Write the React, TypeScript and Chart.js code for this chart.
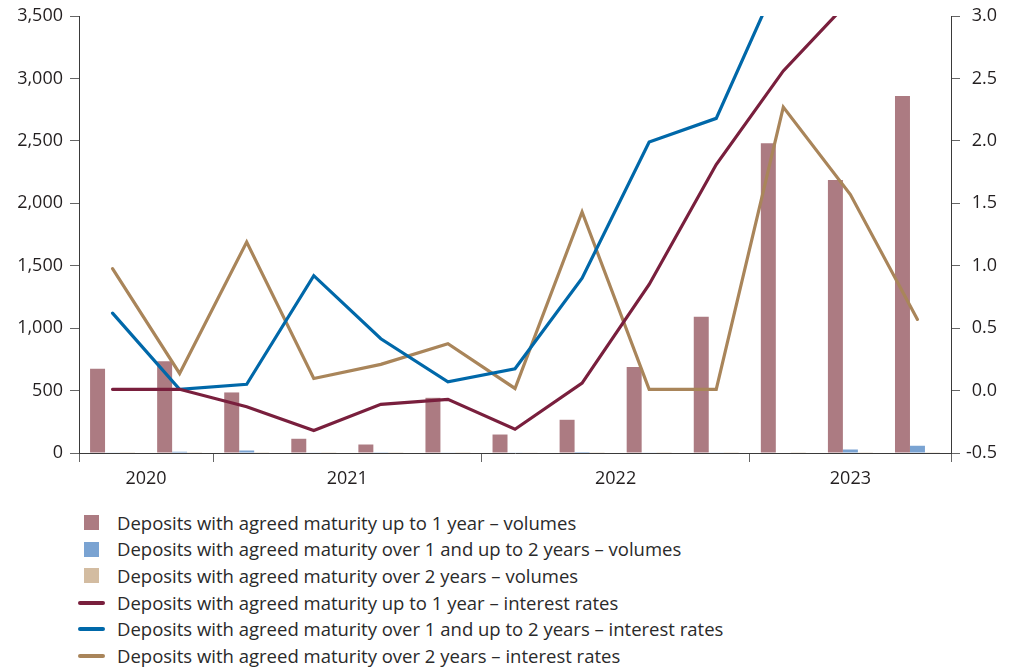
import React, { useEffect, useRef } from "react";
import { Chart, registerables } from "chart.js";

Chart.register(...registerables);

// ---- Data ----
const quarters = [
  "Q3 2020", "Q4 2020",
  "Q1 2021", "Q2 2021", "Q3 2021", "Q4 2021",
  "Q1 2022", "Q2 2022", "Q3 2022", "Q4 2022",
  "Q1 2023", "Q2 2023", "Q3 2023",
];

const volumesUpTo1Y = [675, 735, 485, 114, 68, 442, 148, 266, 688, 1091, 2480, 2186, 2859];
const volumes1To2Y = [3, 10, 20, 3, 2, 3, 3, 8, 3, 3, 4, 28, 58];
const volumesOver2Y = [2, 2, 2, 2, 2, 2, 3, 2, 2, 2, 2, 2, 2];

const ratesUpTo1Y = [0.01, 0.01, -0.13, -0.32, -0.11, -0.07, -0.31, 0.06, 0.85, 1.81, 2.56, 3.13, 3.4];
const rates1To2Y = [0.62, 0.01, 0.05, 0.92, 0.415, 0.07, 0.175, 0.9, 1.99, 2.18, 3.38, 3.7, 3.9];
const ratesOver2Y = [0.976, 0.137, 1.19, 0.097, 0.21, 0.375, 0.017, 1.43, 0.01, 0.01, 2.27, 1.57, 0.57];

const yearLabels = ["2020", "2021", "2022", "2023"];
const yearLabelPositions = [1, 4, 8, 11.5];
const yearBoundaries = [0, 2, 6, 10, 13];

const seriesLabels = [
  "Deposits with agreed maturity up to 1 year – volumes",
  "Deposits with agreed maturity over 1 and up to 2 years – volumes",
  "Deposits with agreed maturity over 2 years – volumes",
  "Deposits with agreed maturity up to 1 year – interest rates",
  "Deposits with agreed maturity over 1 and up to 2 years – interest rates",
  "Deposits with agreed maturity over 2 years – interest rates",
];

// ---- Styles ----
const COLORS = {
  barUpTo1: "#ac7b82",
  bar1To2: "#7aa3d2",
  barOver2: "#d3bca1",
  lineUpTo1: "#791f3d",
  line1To2: "#0068a9",
  lineOver2: "#a9855a",
};
const FONT_FAMILY = "'Open Sans', 'Noto Sans', sans-serif";
const TEXT_COLOR = "#231f20";
const AXIS_COLOR = "#3a3a3a";
const TICK_COLOR = "#666666";

const legendItems = [
  { kind: "box", color: COLORS.barUpTo1 },
  { kind: "box", color: COLORS.bar1To2 },
  { kind: "box", color: COLORS.barOver2 },
  { kind: "line", color: COLORS.lineUpTo1 },
  { kind: "line", color: COLORS.line1To2 },
  { kind: "line", color: COLORS.lineOver2 },
];

// draws the vertical axis lines at the scales' own edges
const axisLinesPlugin = {
  id: "axisLines",
  afterDraw(chart: any) {
    const { ctx, scales } = chart;
    const y = scales.y;
    const y1 = scales.y1;
    ctx.save();
    ctx.strokeStyle = AXIS_COLOR;
    ctx.lineWidth = 1;
    ctx.beginPath();
    const lx = Math.round(y.right - 0.5) + 0.5;
    const rx = Math.round(y1.left - 0.5) + 0.5;
    ctx.moveTo(lx, y.top);
    ctx.lineTo(lx, y.bottom + 0.5);
    ctx.moveTo(rx, y1.top);
    ctx.lineTo(rx, y1.bottom + 0.5);
    ctx.stroke();
    ctx.restore();
  },
};

export default function App() {
  const canvasRef = useRef<HTMLCanvasElement | null>(null);

  useEffect(() => {
    if (!canvasRef.current) return;
    const tickFont = { family: FONT_FAMILY, size: 18 };
    const lineDs = (label: string, data: number[], color: string) => ({
      type: "line" as const,
      label,
      data,
      yAxisID: "y1",
      xAxisID: "x",
      borderColor: color,
      backgroundColor: color,
      borderWidth: 3.2,
      pointRadius: 0,
      tension: 0,
      borderCapStyle: "round" as const,
      order: 0,
    });
    const barDs = (label: string, data: number[], color: string) => ({
      type: "bar" as const,
      label,
      data,
      yAxisID: "y",
      xAxisID: "x",
      backgroundColor: color,
      borderWidth: 0,
      categoryPercentage: 0.67,
      barPercentage: 1.0,
      order: 1,
    });

    const chart = new Chart(canvasRef.current, {
      type: "bar",
      data: {
        labels: quarters,
        datasets: [
          barDs(seriesLabels[0], volumesUpTo1Y, COLORS.barUpTo1),
          barDs(seriesLabels[1], volumes1To2Y, COLORS.bar1To2),
          barDs(seriesLabels[2], volumesOver2Y, COLORS.barOver2),
          lineDs(seriesLabels[3], ratesUpTo1Y, COLORS.lineUpTo1),
          lineDs(seriesLabels[4], rates1To2Y, COLORS.line1To2),
          lineDs(seriesLabels[5], ratesOver2Y, COLORS.lineOver2),
        ] as any,
      },
      plugins: [axisLinesPlugin],
      options: {
        animation: false,
        responsive: false,
        layout: { padding: { top: 16, left: 0, right: 14, bottom: 0 } },
        plugins: { legend: { display: false }, tooltip: { enabled: false } },
        scales: {
          x: { type: "category", display: false, offset: true },
          xYears: {
            type: "linear",
            position: "bottom",
            min: 0,
            max: 13,
            offset: false,
            afterBuildTicks: (scale: any) => {
              const vals = [...yearBoundaries, ...yearLabelPositions].sort((a, b) => a - b);
              scale.ticks = vals.map((v) => ({ value: v }));
            },
            afterFit: (scale: any) => {
              scale.height = 47;
              scale.paddingLeft = 0;
              scale.paddingRight = 0;
            },
            ticks: {
              autoSkip: false,
              maxRotation: 0,
              minRotation: 0,
              padding: 6,
              color: TEXT_COLOR,
              font: tickFont,
              callback: (value: any) => {
                const i = yearLabelPositions.indexOf(Number(value));
                return i >= 0 ? yearLabels[i] : "";
              },
            },
            grid: {
              offset: false,
              drawOnChartArea: false,
              tickLength: 9,
              tickColor: (ctx: any) =>
                ctx.tick && yearBoundaries.includes(ctx.tick.value) ? TICK_COLOR : "rgba(0,0,0,0)",
            },
            border: { color: AXIS_COLOR, width: 1 },
          },
          y: {
            type: "linear",
            position: "left",
            min: 0,
            max: 3500,
            afterFit: (scale: any) => {
              scale.width = 79;
              scale.paddingTop = 0;
              scale.paddingBottom = 0;
            },
            ticks: {
              stepSize: 500,
              padding: 7,
              color: TEXT_COLOR,
              font: tickFont,
              callback: (v: any) => Number(v).toLocaleString("en-US"),
            },
            grid: { drawOnChartArea: false, tickLength: 9, tickColor: TICK_COLOR },
            border: { display: true, color: AXIS_COLOR, width: 1 },
          },
          y1: {
            type: "linear",
            position: "right",
            min: -0.5,
            max: 3.0,
            afterFit: (scale: any) => {
              scale.width = 46;
              scale.paddingTop = 0;
              scale.paddingBottom = 0;
            },
            ticks: {
              stepSize: 0.5,
              padding: 6,
              crossAlign: "far",
              color: TEXT_COLOR,
              font: tickFont,
              callback: (v: any) => Number(v).toFixed(1),
            },
            grid: { drawOnChartArea: false, tickLength: 9, tickColor: TICK_COLOR },
            border: { display: true, color: AXIS_COLOR, width: 1 },
          },
        },
      } as any,
    });
    return () => chart.destroy();
  }, []);

  const rowCenter0 = 522.5;
  const rowStep = 26.7;

  return (
    <div style={{ position: "absolute", left: 0, top: 0, width: 1011, height: 669, background: "#fff", overflow: "hidden" }}>
      <canvas ref={canvasRef} width={1011} height={500} style={{ position: "absolute", left: 0, top: 0 }} />
      {legendItems.map((item, i) => {
        const cy = rowCenter0 + rowStep * i;
        return (
          <div key={i}>
            {item.kind === "box" ? (
              <div
                style={{
                  position: "absolute",
                  left: 84,
                  top: cy - 7.5,
                  width: 15,
                  height: 15,
                  background: item.color,
                }}
              />
            ) : (
              <div
                style={{
                  position: "absolute",
                  left: 78,
                  top: cy - 2,
                  width: 27,
                  height: 4,
                  borderRadius: 2,
                  background: item.color,
                }}
              />
            )}
            <div
              style={{
                position: "absolute",
                left: 117,
                top: cy - 13,
                height: 26,
                lineHeight: "26px",
                fontFamily: FONT_FAMILY,
                fontSize: 18.5,
                color: "#2a2a2a",
                whiteSpace: "nowrap",
              }}
            >
              {seriesLabels[i]}
            </div>
          </div>
        );
      })}
    </div>
  );
}
